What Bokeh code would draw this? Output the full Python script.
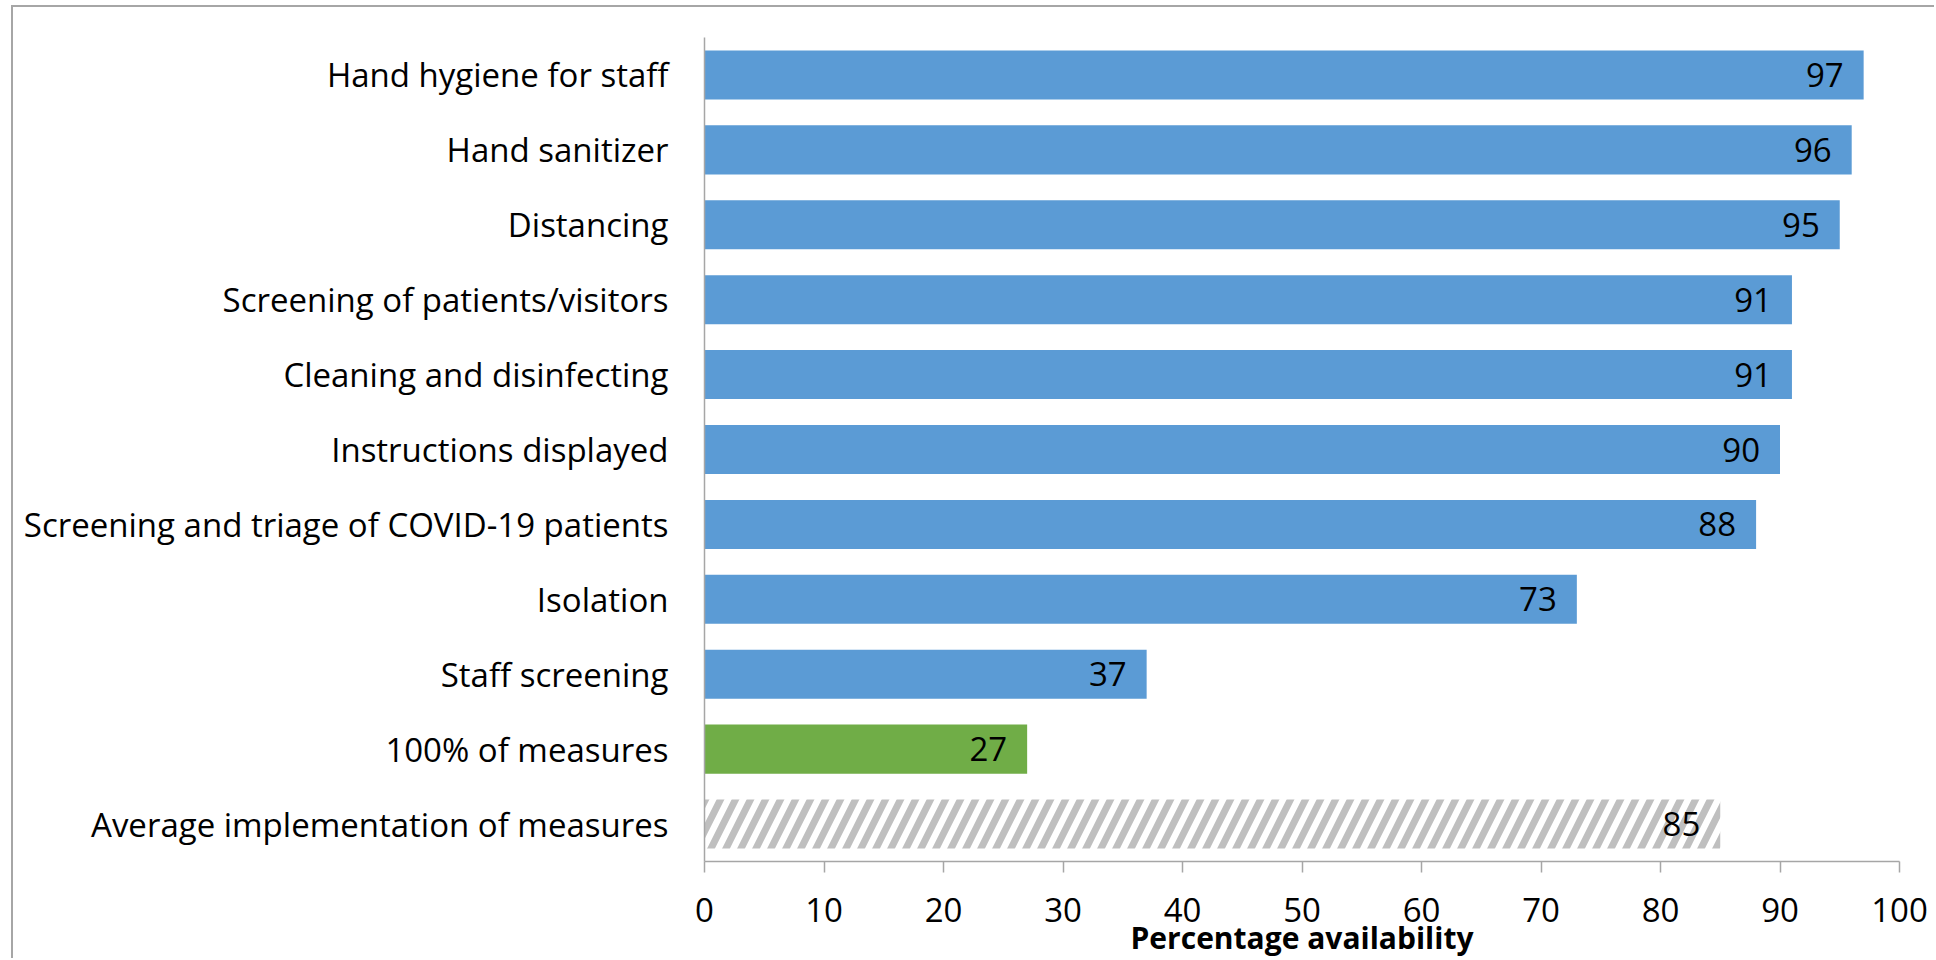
from bokeh.plotting import figure
from bokeh.models import ColumnDataSource, FactorRange, Range1d, FixedTicker
from bokeh.core.properties import value
from bokeh.embed import file_html
from bokeh.resources import INLINE

# ---- data ----
measure_names = ["Hand hygiene for staff", "Hand sanitizer", "Distancing",
                 "Screening of patients/visitors", "Cleaning and disinfecting",
                 "Instructions displayed", "Screening and triage of COVID-19 patients",
                 "Isolation", "Staff screening"]
measure_values = [97, 96, 95, 91, 91, 90, 88, 73, 37]
all_name = ["100% of measures"]
all_value = [27]
avg_name = ["Average implementation of measures"]
avg_value = [85]
x_ticks = [0, 10, 20, 30, 40, 50, 60, 70, 80, 90, 100]
x_title = "Percentage availability"

categories = measure_names + all_name + avg_name
factors = list(reversed(categories))

FONT = "Open Sans"
GRAY = "#a6a6a6"

p = figure(width=1923, height=953, y_range=FactorRange(*factors),
           x_range=Range1d(0, 100), output_backend="svg", toolbar_location=None,
           min_border_left=691, min_border_top=30, min_border_right=37,
           min_border_bottom=99)
p.margin = (5, 0, 0, 11)
p.styles = {"border-top": f"2px solid {GRAY}", "border-left": f"2px solid {GRAY}"}
p.outline_line_color = None
p.background_fill_color = "white"
p.border_fill_color = "white"
p.xgrid.grid_line_color = None
p.ygrid.grid_line_color = None

BAR_H = 0.655
src_m = ColumnDataSource(dict(y=measure_names, x=measure_values))
src_a = ColumnDataSource(dict(y=all_name, x=all_value))
src_v = ColumnDataSource(dict(y=avg_name, x=avg_value))

p.hbar(y="y", right="x", left=0, height=BAR_H, source=src_m,
       fill_color="#5b9bd5", line_color=None)
p.hbar(y="y", right="x", left=0, height=BAR_H, source=src_a,
       fill_color="#70ad47", line_color=None)
p.hbar(y="y", right="x", left=0, height=BAR_H, source=src_v,
       fill_color="white", line_color=None, hatch_pattern="/",
       hatch_color="#bfbfbf", hatch_weight=7, hatch_scale=30)

for src in (src_m, src_a, src_v):
    p.text(x="x", y="y", text="x", source=src, x_offset=-20,
           text_align="right", text_baseline="middle",
           text_font=value(FONT), text_font_size="33px", text_color="black")

# x axis
xa = p.xaxis[0]
xa.ticker = FixedTicker(ticks=x_ticks)
xa.axis_line_color = GRAY
xa.axis_line_width = 1.5
xa.major_tick_line_color = GRAY
xa.major_tick_line_width = 1.5
xa.major_tick_out = 11
xa.major_tick_in = 0
xa.minor_tick_line_color = None
xa.major_label_text_font = FONT
xa.major_label_text_font_size = "33px"
xa.major_label_text_color = "black"
xa.major_label_standoff = 25
xa.axis_label = x_title
xa.axis_label_text_font = FONT
xa.axis_label_text_font_size = "30px"
xa.axis_label_text_font_style = "bold"
xa.axis_label_text_color = "black"
xa.axis_label_standoff = -8

# y axis
ya = p.yaxis[0]
ya.axis_line_color = GRAY
ya.axis_line_width = 1.5
ya.major_tick_line_color = None
ya.major_tick_out = 0
ya.major_tick_in = 0
ya.minor_tick_line_color = None
ya.major_label_text_font = FONT
ya.major_label_text_font_size = "33px"
ya.major_label_text_color = "black"
ya.major_label_standoff = 36

open("out.html", "w").write(file_html(p, INLINE))
